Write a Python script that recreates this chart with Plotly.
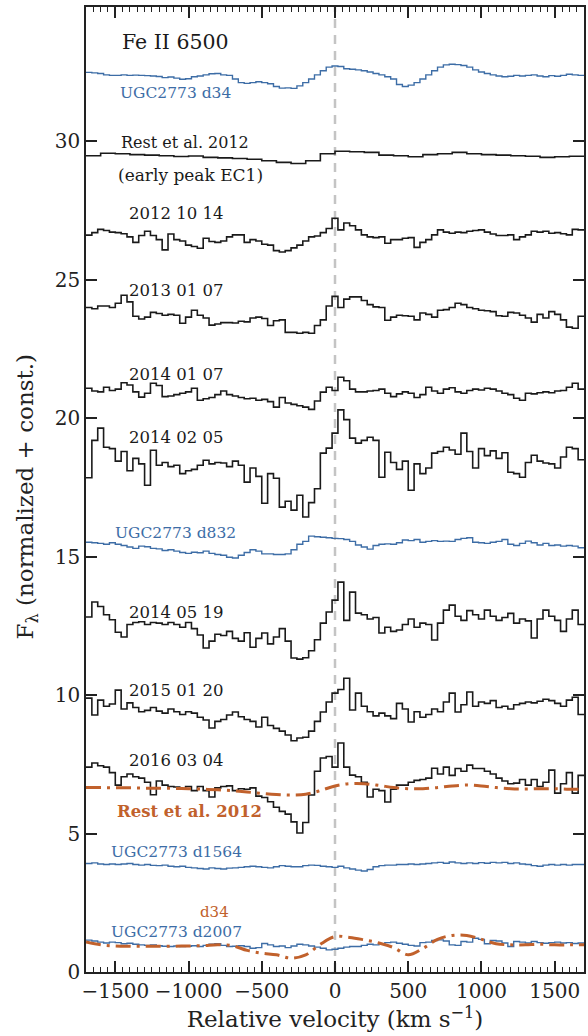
import numpy as np
import plotly.graph_objects as go

# ---- velocity grids (km/s) ----
V_MIN, V_MAX = -1700, 1700
FINE_STEP = 40      # bin width of the binned spectra
COARSE_STEP = 100   # bin width of the early-peak spectrum / model grid

# ---- binned spectra (normalized flux + constant), 40 km/s bins from -1700 ----
ugc_d34 = [
    32.49, 32.47, 32.45, 32.40, 32.38, 32.38, 32.40, 32.38, 32.39, 32.38,
    32.37, 32.36, 32.34, 32.30, 32.32, 32.28, 32.24, 32.26, 32.33, 32.36,
    32.40, 32.44, 32.45, 32.40, 32.38, 32.25, 32.12, 32.09, 32.12, 32.15,
    32.12, 32.08, 31.98, 31.92, 31.93, 31.91, 32.00, 32.12, 32.25, 32.40,
    32.55, 32.68, 32.72, 32.70, 32.62, 32.60, 32.58, 32.55, 32.50, 32.45,
    32.40, 32.33, 32.25, 32.05, 31.98, 32.03, 32.12, 32.25, 32.40, 32.55,
    32.68, 32.76, 32.78, 32.77, 32.74, 32.68, 32.58, 32.50, 32.45, 32.40,
    32.36, 32.33, 32.35, 32.38, 32.36, 32.38, 32.40, 32.36, 32.33, 32.37,
    32.35, 32.38, 32.42, 32.40, 32.38,
]

sn_20121014 = [
    26.61, 26.70, 26.82, 26.78, 26.72, 26.70, 26.66, 26.55, 26.35, 26.60,
    26.75, 26.60, 26.45, 26.08, 26.65, 26.45, 26.40, 26.25, 26.20, 26.14,
    26.50, 26.38, 26.35, 26.40, 26.55, 26.62, 26.62, 26.35, 26.45, 26.40,
    26.28, 26.25, 26.05, 26.00, 26.05, 26.15, 26.25, 26.40, 26.55, 26.58,
    26.70, 26.85, 27.22, 26.80, 27.05, 26.95, 26.80, 26.62, 26.55, 26.52,
    26.55, 26.32, 26.45, 26.45, 26.50, 26.52, 26.17, 26.35, 26.45, 26.62,
    26.80, 26.72, 26.68, 26.72, 26.70, 26.75, 26.78, 26.80, 26.72, 26.65,
    26.60, 26.60, 26.62, 26.45, 26.55, 26.62, 26.75, 26.72, 26.75, 26.68,
    26.70, 26.66, 26.62, 26.82, 26.80,
]

sn_20130107 = [
    24.00, 23.95, 24.05, 24.05, 24.00, 24.15, 24.44, 24.20, 23.68, 23.58,
    23.65, 23.82, 23.78, 23.72, 23.75, 23.72, 23.43, 23.65, 23.90, 23.72,
    23.62, 23.36, 23.40, 23.45, 23.45, 23.44, 23.50, 23.48, 23.62, 23.65,
    23.60, 23.35, 23.52, 23.55, 23.10, 23.10, 23.07, 23.10, 23.07, 23.35,
    23.55, 24.05, 24.40, 24.00, 24.30, 24.38, 24.38, 24.25, 24.10, 24.02,
    24.00, 23.54, 23.65, 23.72, 23.70, 23.68, 23.55, 23.80, 23.75, 23.65,
    23.90, 23.92, 24.00, 24.15, 24.10, 24.00, 23.95, 23.90, 23.88, 23.85,
    23.70, 23.68, 23.82, 23.80, 23.72, 23.62, 23.47, 23.75, 23.62, 23.85,
    23.75, 23.55, 23.29, 23.25, 23.68,
]

sn_20140107 = [
    21.08, 20.98, 20.95, 21.12, 21.00, 21.05, 21.28, 21.20, 20.95, 20.76,
    20.90, 21.26, 21.18, 20.78, 20.80, 20.85, 20.90, 20.95, 21.08, 20.65,
    20.70, 20.75, 20.85, 20.98, 20.85, 20.80, 20.75, 20.70, 20.72, 20.65,
    20.68, 20.60, 20.40, 20.75, 20.55, 20.50, 20.45, 20.40, 20.32, 20.62,
    20.94, 21.12, 21.00, 21.48, 21.35, 21.05, 20.95, 20.95, 20.98, 21.00,
    21.05, 20.90, 20.78, 20.88, 20.95, 20.90, 20.75, 20.85, 21.12, 20.98,
    20.90, 21.05, 21.10, 20.95, 20.90, 21.00, 21.05, 21.02, 21.08, 21.05,
    20.98, 20.90, 20.85, 20.72, 20.65, 20.90, 20.88, 20.92, 20.95, 20.92,
    20.98, 21.00, 21.12, 21.26, 21.05,
]

sn_20140205 = [
    17.85, 19.20, 19.64, 18.95, 18.90, 18.45, 18.80, 18.10, 18.55, 18.35,
    17.58, 18.84, 18.30, 18.40, 18.25, 18.30, 18.00, 18.10, 18.15, 18.30,
    18.48, 18.35, 18.40, 18.38, 18.25, 18.45, 18.30, 17.69, 18.20, 17.90,
    16.93, 18.00, 17.83, 16.79, 17.00, 16.68, 17.22, 16.43, 16.95, 17.45,
    18.74, 18.92, 19.46, 20.30, 19.95, 19.28, 19.10, 19.20, 19.31, 19.20,
    17.87, 18.77, 18.40, 18.15, 18.45, 17.40, 18.35, 18.00, 18.20, 18.74,
    18.80, 18.95, 18.85, 18.70, 19.46, 18.80, 18.20, 18.90, 18.65, 18.82,
    18.55, 18.75, 18.05, 18.00, 17.87, 18.40, 18.66, 18.45, 18.38, 18.35,
    18.20, 18.60, 18.95, 18.90, 18.50,
]

ugc_d832 = [
    15.52, 15.50, 15.48, 15.45, 15.50, 15.45, 15.40, 15.35, 15.30, 15.38,
    15.36, 15.30, 15.28, 15.22, 15.25, 15.20, 15.15, 15.12, 15.16, 15.14,
    15.20, 15.12, 15.08, 15.05, 14.98, 14.95, 15.05, 15.15, 15.25, 15.20,
    15.10, 15.10, 15.08, 15.08, 15.10, 15.25, 15.45, 15.55, 15.74, 15.72,
    15.70, 15.68, 15.66, 15.65, 15.62, 15.55, 15.42, 15.35, 15.27, 15.40,
    15.45, 15.46, 15.45, 15.50, 15.60, 15.58, 15.62, 15.52, 15.55, 15.58,
    15.55, 15.56, 15.55, 15.62, 15.66, 15.68, 15.52, 15.50, 15.48, 15.52,
    15.55, 15.62, 15.45, 15.40, 15.48, 15.56, 15.50, 15.42, 15.48, 15.40,
    15.42, 15.38, 15.40, 15.38, 15.32,
]

sn_20140519 = [
    12.82, 13.36, 13.20, 12.90, 12.72, 12.27, 12.10, 12.55, 12.62, 12.65,
    12.55, 12.62, 12.60, 12.55, 12.62, 12.55, 12.45, 12.62, 12.40, 12.17,
    11.70, 11.95, 12.20, 12.15, 12.30, 12.05, 11.95, 12.25, 11.73, 12.05,
    12.24, 11.85, 12.10, 12.40, 11.95, 11.34, 11.30, 11.35, 11.60, 12.00,
    12.60, 13.00, 13.43, 14.08, 12.70, 13.72, 12.96, 12.90, 12.75, 12.80,
    12.24, 12.45, 12.30, 12.35, 12.55, 12.75, 12.45, 12.60, 12.55, 11.99,
    12.60, 13.07, 13.25, 12.85, 12.70, 13.05, 12.90, 12.75, 13.07, 12.85,
    12.70, 12.80, 12.95, 12.60, 12.75, 12.68, 12.06, 12.75, 13.07, 12.85,
    12.70, 12.30, 12.75, 13.07, 12.55,
]

sn_20150120 = [
    9.89, 9.28, 9.82, 9.60, 9.68, 10.18, 9.50, 9.72, 9.55, 9.40,
    9.45, 9.55, 9.42, 9.35, 9.50, 9.40, 9.30, 9.40, 9.35, 9.20,
    9.10, 8.81, 9.05, 9.12, 9.28, 9.39, 9.22, 9.12, 9.05, 8.85,
    9.20, 8.90, 8.80, 8.70, 8.56, 8.35, 8.45, 8.48, 8.70, 9.05,
    9.39, 9.75, 10.07, 10.20, 10.61, 9.46, 10.07, 9.60, 9.40, 9.25,
    9.35, 9.25, 9.15, 9.70, 9.50, 9.03, 9.40, 9.20, 9.30, 9.50,
    9.40, 9.75, 10.07, 9.39, 9.65, 10.11, 9.60, 9.75, 9.70, 9.80,
    9.55, 9.60, 9.50, 9.65, 9.70, 9.75, 9.72, 9.78, 9.85, 9.80,
    9.70, 9.60, 9.82, 9.92, 9.30,
]

sn_20160304 = [
    7.40, 7.55, 7.45, 7.40, 7.20, 6.75, 7.05, 7.15, 7.05, 7.00,
    6.85, 6.40, 6.90, 6.75, 6.70, 6.68, 6.60, 6.70, 6.55, 6.70,
    6.55, 6.32, 6.65, 6.70, 6.72, 6.55, 6.62, 6.60, 6.65, 6.35,
    6.30, 6.15, 5.95, 5.80, 5.70, 5.42, 5.02, 5.40, 6.39, 7.25,
    7.73, 7.78, 7.40, 8.27, 7.40, 7.11, 7.05, 6.85, 6.32, 6.60,
    6.55, 6.14, 6.60, 6.75, 6.75, 6.85, 6.92, 6.95, 7.00, 7.36,
    7.15, 7.40, 7.10, 7.35, 7.25, 7.47, 7.35, 7.35, 7.25, 7.15,
    7.00, 6.90, 6.80, 6.82, 6.95, 6.75, 6.95, 6.70, 6.85, 7.29,
    6.46, 6.80, 7.20, 6.46, 7.10,
]

ugc_d1564 = [
    3.92, 3.94, 3.90, 3.88, 3.90, 3.88, 3.90, 3.92, 3.88, 3.86,
    3.88, 3.85, 3.84, 3.86, 3.82, 3.80, 3.82, 3.78, 3.76, 3.74,
    3.72, 3.76, 3.74, 3.72, 3.75, 3.76, 3.78, 3.80, 3.82, 3.80,
    3.78, 3.76, 3.80, 3.84, 3.82, 3.80, 3.80, 3.84, 3.86, 3.85,
    3.82, 3.80, 3.78, 3.82, 3.76, 3.72, 3.68, 3.65, 3.70, 3.80,
    3.84, 3.86, 3.86, 3.88, 3.88, 3.90, 3.88, 3.90, 3.92, 3.94,
    3.96, 3.93, 3.97, 3.94, 3.92, 3.94, 3.92, 3.95, 3.93, 3.96,
    3.94, 3.96, 3.92, 3.94, 3.90, 3.88, 3.84, 3.82, 3.86, 3.88,
    3.86, 3.88, 3.86, 3.88, 3.88,
]

ugc_d2007 = [
    1.15, 1.12, 1.08, 1.05, 1.08, 1.06, 1.02, 1.04, 1.00, 0.98,
    0.96, 0.98, 0.95, 0.93, 0.92, 0.94, 0.92, 0.93, 0.95, 0.92,
    0.96, 1.00, 1.02, 0.96, 0.92, 0.93, 0.95, 0.92, 0.86, 0.88,
    1.03, 0.98, 0.92, 0.94, 0.88, 0.94, 1.00, 0.98, 0.94, 0.90,
    0.86, 0.80, 0.82, 0.86, 0.90, 0.92, 0.92, 0.96, 1.00, 0.98,
    1.02, 1.06, 1.08, 1.04, 1.00, 0.96, 0.94, 1.06, 1.08, 1.14,
    1.16, 1.12, 0.98, 0.96, 1.10, 1.08, 1.22, 1.18, 1.02, 1.14,
    1.12, 1.05, 0.92, 1.10, 1.08, 1.05, 1.10, 1.06, 1.04, 1.06,
    1.08, 1.05, 1.06, 1.03, 1.05,
]

# ---- early-peak spectrum, 100 km/s bins from -1700 ----
rest_ec1 = [
    29.48, 29.57, 29.55, 29.52, 29.50, 29.48, 29.45, 29.47, 29.42, 29.40,
    29.38, 29.35, 29.30, 29.24, 29.20, 29.30, 29.55, 29.64, 29.62, 29.60,
    29.50, 29.48, 29.44, 29.52, 29.55, 29.60, 29.55, 29.52, 29.50, 29.48,
    29.46, 29.42, 29.44, 29.46,
]

# ---- smooth model profiles sampled every 100 km/s from -1700 to 1700 ----
rest_model = [
    6.66, 6.66, 6.65, 6.65, 6.64, 6.64, 6.63, 6.62, 6.60, 6.58,
    6.55, 6.50, 6.45, 6.41, 6.39, 6.42, 6.55, 6.72, 6.80, 6.80,
    6.74, 6.66, 6.62, 6.62, 6.66, 6.72, 6.75, 6.72, 6.66, 6.62,
    6.61, 6.62, 6.62, 6.60, 6.60,
]
d34_model = [
    1.08, 0.98, 0.94, 0.93, 0.93, 0.93, 0.93, 0.94, 0.95, 0.98,
    0.95, 0.78, 0.68, 0.62, 0.50, 0.62, 1.00, 1.28, 1.25, 1.16,
    1.05, 0.88, 0.62, 0.85, 1.18, 1.32, 1.32, 1.18, 1.02, 0.98,
    0.98, 1.00, 0.98, 0.98, 0.98,
]

# ---- labels: (text, velocity of left edge, y position, colour key, size, bold) ----
labels = [
    ("Fe II 6500", -1466, 33.6, "k", 20.5, False),
    ("UGC2773 d34", -1479, 31.73, "b", 15.5, False),
    ("Rest et al. 2012", -1473, 29.95, "k", 16, False),
    ("(early peak EC1)", -1493, 28.77, "k", 17, False),
    ("2012 10 14", -1418, 27.4, "k", 16.5, False),
    ("2013 01 07", -1418, 24.62, "k", 16.5, False),
    ("2014 01 07", -1418, 21.59, "k", 16.5, False),
    ("2014 02 05", -1418, 19.31, "k", 16.5, False),
    ("UGC2773 d832", -1514, 15.85, "b", 15.5, False),
    ("2014 05 19", -1418, 13.0, "k", 16.5, False),
    ("2015 01 20", -1418, 10.18, "k", 16.5, False),
    ("2016 03 04", -1418, 7.65, "k", 16.5, False),
    ("Rest et al. 2012", -1500, 5.78, "o", 16.5, True),
    ("UGC2773 d1564", -1541, 4.33, "b", 15.5, False),
    ("d34", -938, 2.17, "o", 15, False),
    ("UGC2773 d2007", -1541, 1.44, "b", 15.5, False),
]

x_tickvals = [-1500, -1000, -500, 0, 500, 1000, 1500]
y_tickvals = [0, 5, 10, 15, 20, 25, 30]

COLORS = {"k": "#1a1a1a", "b": "#3d6da6", "o": "#c1612c"}
FONT = "DejaVu Serif"
AXIS_INK = "#222222"


def step_xy(values, step):
    """Bin edges and values for an 'hv' staircase that spans the full range."""
    edges = V_MIN + step * np.arange(len(values) + 1)
    return edges, list(values) + [values[-1]]


fig = go.Figure()

# zero-velocity reference line
fig.add_trace(go.Scatter(
    x=[0, 0], y=[0, 35], mode="lines",
    line=dict(color="#c4c4c4", width=2.5, dash="9px,7px"),
    hoverinfo="skip", showlegend=False,
))

binned = [
    (ugc_d34, FINE_STEP, "b", 1.4),
    (rest_ec1, COARSE_STEP, "k", 1.6),
    (sn_20121014, FINE_STEP, "k", 1.6),
    (sn_20130107, FINE_STEP, "k", 1.6),
    (sn_20140107, FINE_STEP, "k", 1.6),
    (sn_20140205, FINE_STEP, "k", 1.6),
    (ugc_d832, FINE_STEP, "b", 1.4),
    (sn_20140519, FINE_STEP, "k", 1.6),
    (sn_20150120, FINE_STEP, "k", 1.6),
    (sn_20160304, FINE_STEP, "k", 1.6),
    (ugc_d1564, FINE_STEP, "b", 1.4),
    (ugc_d2007, FINE_STEP, "b", 1.4),
]
for vals, step, ckey, lw in binned:
    xs, ys = step_xy(vals, step)
    fig.add_trace(go.Scatter(
        x=xs, y=ys, mode="lines", line_shape="hv",
        line=dict(color=COLORS[ckey], width=lw),
        hoverinfo="skip", showlegend=False,
    ))

model_v = V_MIN + COARSE_STEP * np.arange(len(rest_model))
for vals in (rest_model, d34_model):
    fig.add_trace(go.Scatter(
        x=model_v, y=vals, mode="lines", line_shape="spline",
        line=dict(color=COLORS["o"], width=3, dash="15px,6px,3px,6px"),
        hoverinfo="skip", showlegend=False,
    ))

for text, xv, yv, ckey, size, bold in labels:
    fig.add_annotation(
        x=xv, y=yv, xref="x", yref="y", showarrow=False,
        xanchor="left", yanchor="middle",
        text=f"<b>{text}</b>" if bold else text,
        font=dict(family=FONT, size=size, color=COLORS[ckey]),
    )

# vertical axis title
fig.add_annotation(
    x=-0.118, y=0.493, xref="paper", yref="paper", showarrow=False,
    xanchor="center", yanchor="middle", textangle=-90,
    text="F<sub>λ</sub> (normalized + const.)",
    font=dict(family=FONT, size=23, color=AXIS_INK),
)

axis_common = dict(
    showline=True, linecolor=AXIS_INK, linewidth=1.5, mirror="allticks",
    ticks="inside", tickcolor=AXIS_INK, tickwidth=1.5,
    showgrid=False, zeroline=False, automargin=False, tickangle=0,
    tickfont=dict(family=FONT, size=20, color=AXIS_INK),
)

fig.update_xaxes(
    range=[V_MIN, V_MAX], tickvals=x_tickvals, ticklen=11,
    minor=dict(dtick=50, ticks="inside", ticklen=5, tickcolor=AXIS_INK, tickwidth=1.2),
    title=dict(text="Relative velocity (km s<sup>−1</sup>)",
               font=dict(family=FONT, size=23, color=AXIS_INK), standoff=2),
    **axis_common,
)
fig.update_yaxes(
    range=[0, 34.85], tickvals=y_tickvals, ticklen=11,
    **axis_common,
)

fig.update_layout(
    width=588, height=1036,
    margin=dict(l=86, r=4, t=7, b=64),
    paper_bgcolor="white", plot_bgcolor="white",
)

fig.write_html("out.html")
